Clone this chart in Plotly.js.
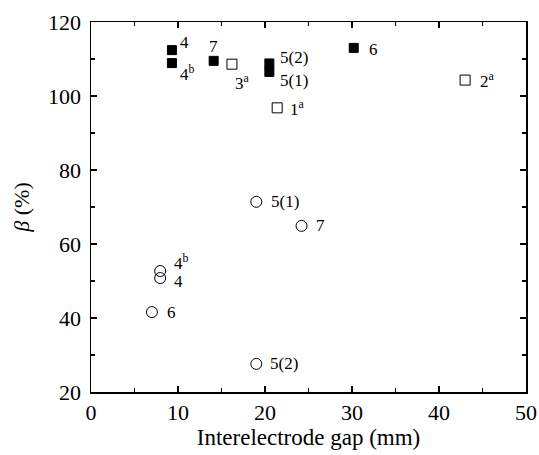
<!DOCTYPE html>
<html>
<head>
<meta charset="utf-8">
<script src="https://cdn.plot.ly/plotly-3.0.1.min.js"></script>
<style>html,body{margin:0;padding:0;background:#fff;}#chart{width:539px;height:455px;}</style>
</head>
<body>
<div id="chart"></div>
<script>
// Filled squares
const filledX = [9.3, 9.3, 14.1, 20.5, 20.5, 30.2];
const filledY = [112.4, 108.9, 109.5, 108.8, 106.5, 113.0];
const filledLabels = ['4', '4<sup>b</sup>', '7', '5(2)', '5(1)', '6'];
// Open squares
const openSqX = [16.2, 21.4, 43.0];
const openSqY = [108.6, 96.8, 104.3];
const openSqLabels = ['3<sup>a</sup>', '1<sup>a</sup>', '2<sup>a</sup>'];
// Open circles
const circX = [19.0, 24.2, 7.95, 7.95, 7.0, 19.0];
const circY = [71.4, 64.9, 52.7, 50.8, 41.6, 27.6];
const circLabels = ['5(1)', '7', '4<sup>b</sup>', '4', '6', '5(2)'];

// label offsets in pixels [dx, dyDown, anchor]
const filledOff = [[6,-8,'left'],[6,10,'left'],[0,-14,'center'],[9,-6,'left'],[9,9,'left'],[13,2,'left']];
const openSqOff = [[1,18,'left'],[11,0,'left'],[13,0,'left']];
const circOff = [[13,0,'left'],[12,0,'left'],[12,-9,'left'],[12,3,'left'],[13,0,'left'],[12,0,'left']];

const FONT = 'Liberation Serif';

const traces = [
  {x: filledX, y: filledY, mode: 'markers', type: 'scatter',
   marker: {symbol: 'square', size: 9, color: '#000', line: {color: '#000', width: 1}}},
  {x: openSqX, y: openSqY, mode: 'markers', type: 'scatter',
   marker: {symbol: 'square-open', size: 10, color: '#000', line: {color: '#000', width: 1}}},
  {x: circX, y: circY, mode: 'markers', type: 'scatter',
   marker: {symbol: 'circle-open', size: 11, color: '#000', line: {color: '#000', width: 1}}}
];

const annotations = [];
function addLabels(xs, ys, labels, offs) {
  for (let i = 0; i < xs.length; i++) {
    annotations.push({x: xs[i], y: ys[i], xref: 'x', yref: 'y', text: labels[i], showarrow: false,
      xanchor: offs[i][2], yanchor: 'middle', xshift: offs[i][0], yshift: -offs[i][1],
      font: {family: FONT, size: 17, color: '#000'}});
  }
}
addLabels(filledX, filledY, filledLabels, filledOff);
addLabels(openSqX, openSqY, openSqLabels, openSqOff);
addLabels(circX, circY, circLabels, circOff);

const axisCommon = {
  showgrid: false, zeroline: false, showline: true, linecolor: '#000', linewidth: 1.5,
  mirror: 'ticks', ticks: 'inside', ticklen: 6, tickwidth: 1.2, tickcolor: '#000',
  tickfont: {family: FONT, size: 22, color: '#000'}
};

const layout = {
  width: 539, height: 455,
  margin: {l: 91, r: 13, t: 22, b: 63},
  paper_bgcolor: '#fff', plot_bgcolor: '#fff',
  showlegend: false,
  font: {family: FONT, color: '#000'},
  xaxis: Object.assign({}, axisCommon, {
    range: [0, 50], dtick: 10, tick0: 0,
    minor: {dtick: 5, ticks: 'inside', ticklen: 4, tickcolor: '#000', tickwidth: 1.2},
    title: {text: 'Interelectrode gap (mm)', font: {family: FONT, size: 23, color: '#000'}, standoff: 2}
  }),
  yaxis: Object.assign({}, axisCommon, {
    range: [20, 120], dtick: 20, tick0: 20,
    ticklabelstandoff: 4,
    minor: {dtick: 10, ticks: 'inside', ticklen: 4, tickcolor: '#000', tickwidth: 1.2},
    title: {text: '<i>β</i> (%)', font: {family: FONT, size: 22, color: '#000'}, standoff: 12}
  }),
  annotations: annotations
};

Plotly.newPlot('chart', traces, layout, {displayModeBar: false, staticPlot: true});
</script>
</body>
</html>
